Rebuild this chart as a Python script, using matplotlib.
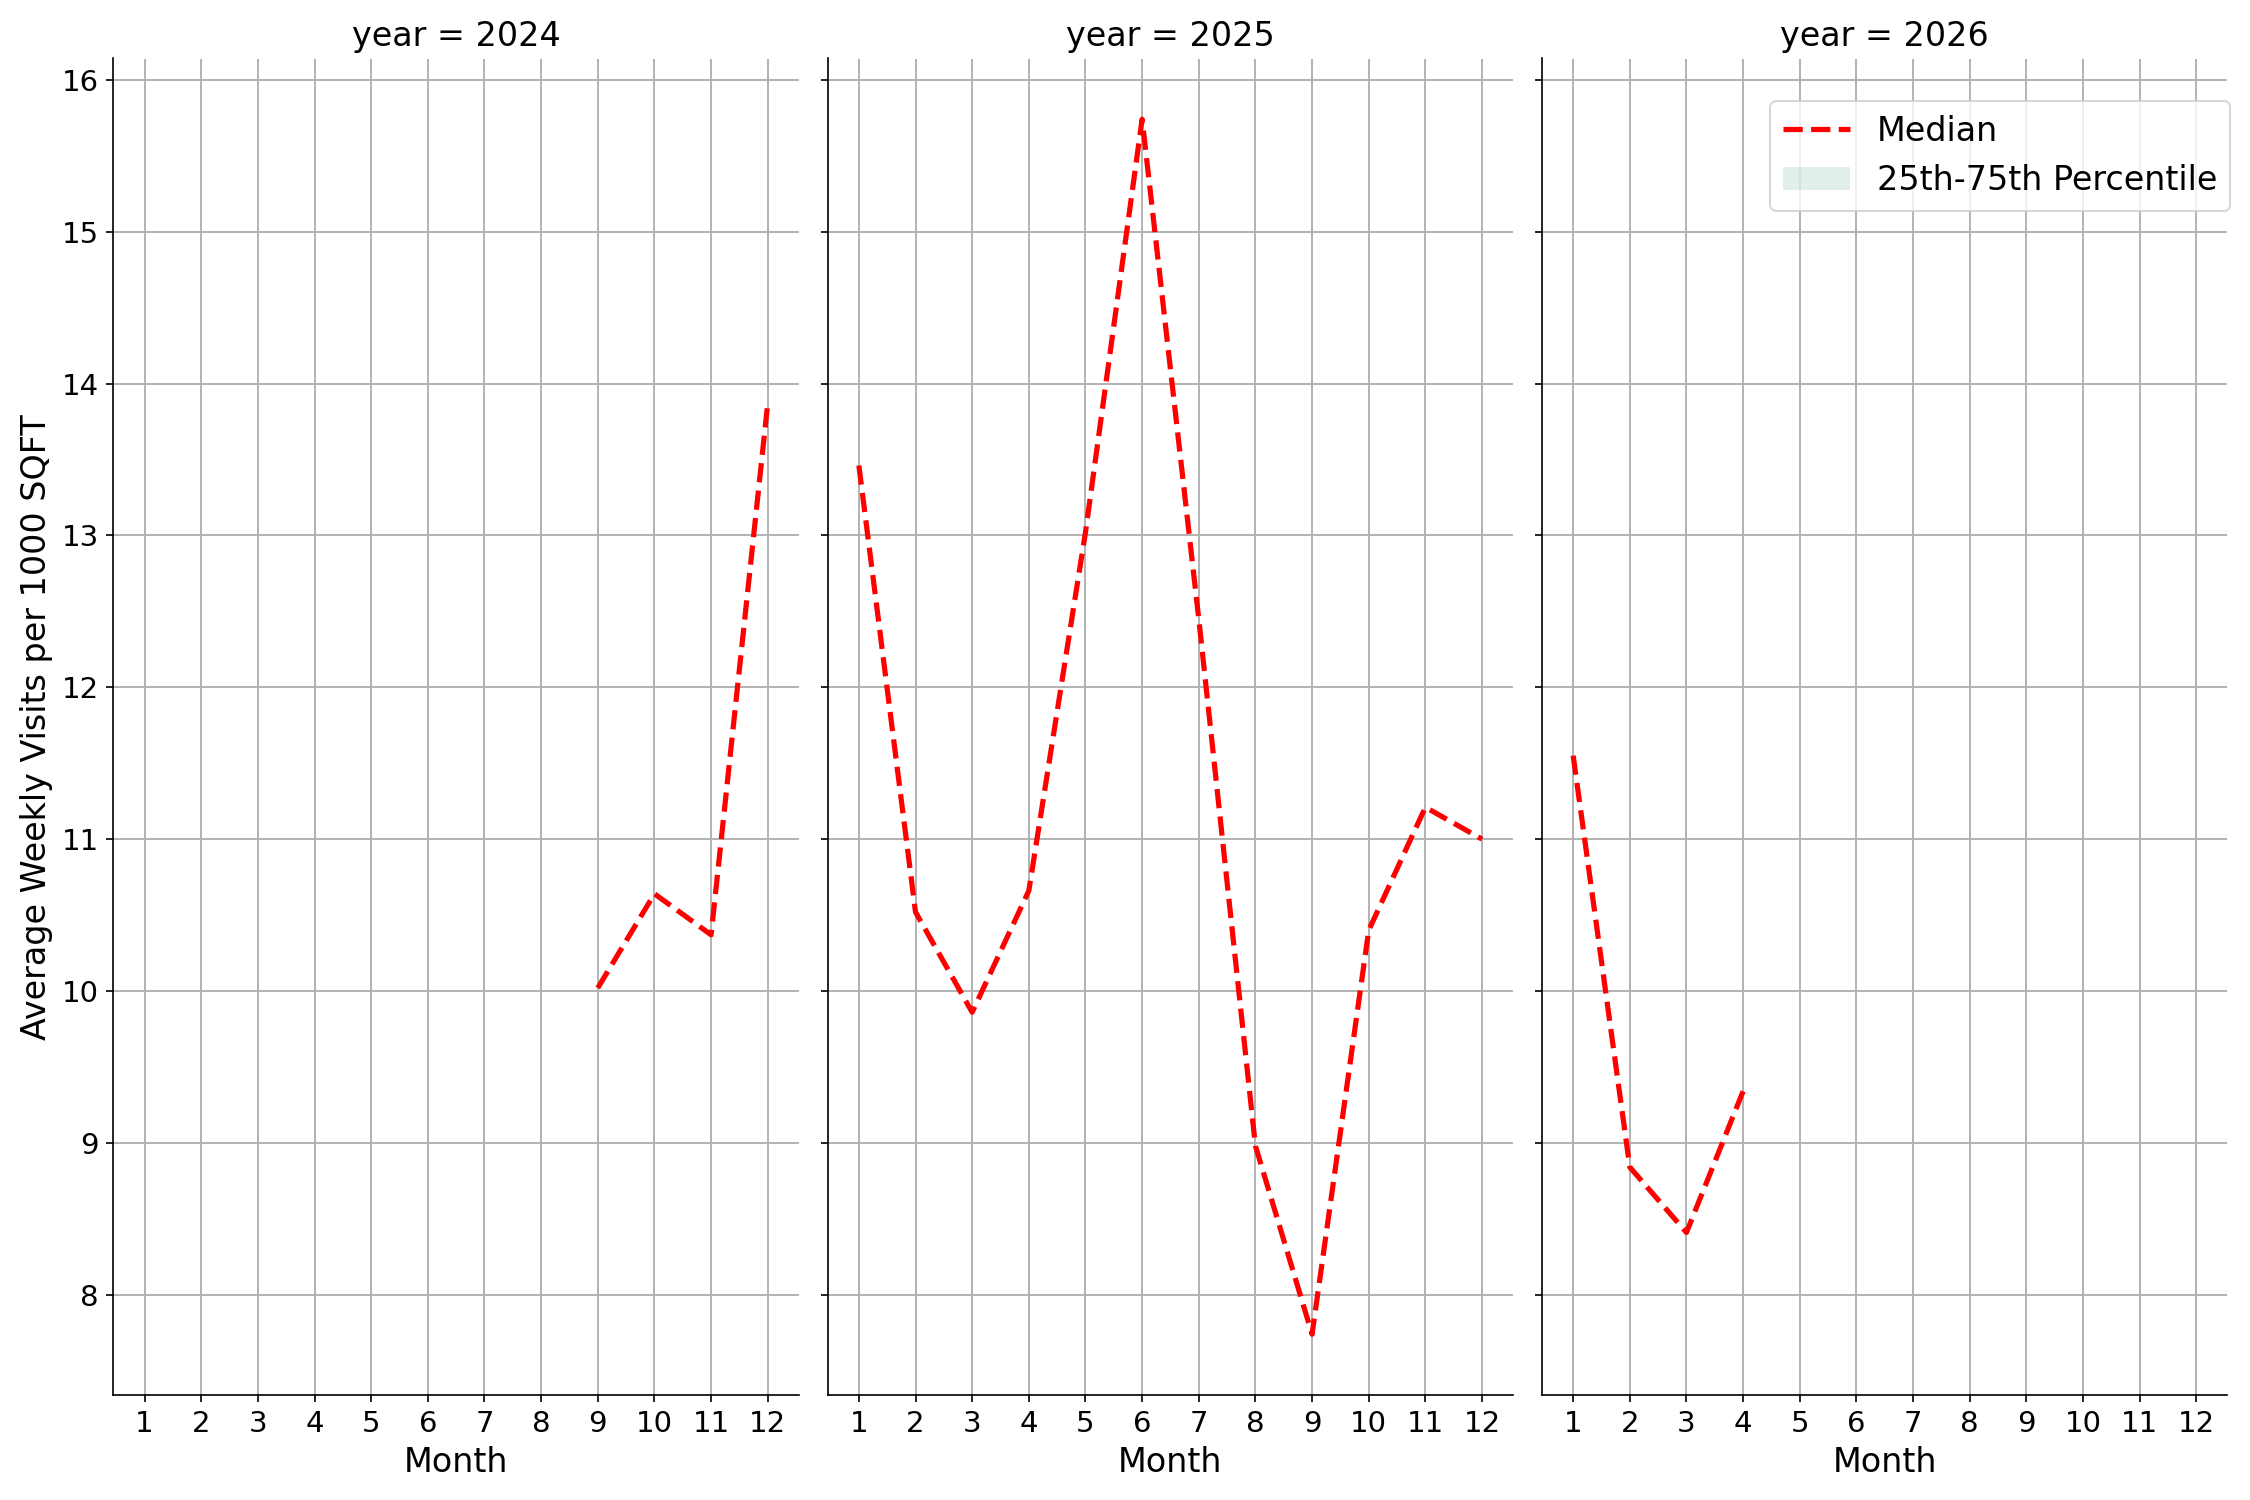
import matplotlib
matplotlib.use("Agg")
import matplotlib.pyplot as plt
from matplotlib.patches import Patch

years = [2024, 2025, 2026]
months_2024 = [9, 10, 11, 12]
median_2024 = [10.02, 10.64, 10.37, 13.87]
months_2025 = [1, 2, 3, 4, 5, 6, 7, 8, 9, 10, 11, 12]
median_2025 = [13.46, 10.52, 9.86, 10.66, 13.02, 15.74, 12.45, 8.98, 7.74, 10.40, 11.21, 11.00]
months_2026 = [1, 2, 3, 4]
median_2026 = [11.55, 8.84, 8.41, 9.34]
month_ticks = list(range(1, 13))

months_by_year = [months_2024, months_2025, months_2026]
median_by_year = [median_2024, median_2025, median_2026]

fig, axes = plt.subplots(1, 3, figsize=(15, 10), dpi=150, sharex=True, sharey=True)
fig.subplots_adjust(left=0.0504, right=0.990, top=0.961, bottom=0.070, wspace=0.042)

for ax, yr, mx, my in zip(axes, years, months_by_year, median_by_year):
    ax.plot(mx, my, color="red", linestyle="--", linewidth=2.5, label="Median")
    ax.set_title(f"year = {yr}", fontsize=16)
    ax.set_xlabel("Month", fontsize=16)
    ax.set_xticks(month_ticks)
    ax.tick_params(labelsize=14)
    ax.grid(True, color="#b0b0b0", linewidth=0.9)
    ax.spines["top"].set_visible(False)
    ax.spines["right"].set_visible(False)
    ax.set_axisbelow(True)

axes[0].set_ylabel("Average Weekly Visits per 1000 SQFT", fontsize=16)

handles = [
    plt.Line2D([], [], color="red", linestyle="--", linewidth=2.5),
    Patch(facecolor="#69b3a2", alpha=0.2, edgecolor="none"),
]
axes[2].legend(handles, ["Median", "25th-75th Percentile"], loc="upper right",
               fontsize=16, bbox_to_anchor=(1.004, 0.968), borderaxespad=0)

fig.savefig("out.png", dpi=150)
